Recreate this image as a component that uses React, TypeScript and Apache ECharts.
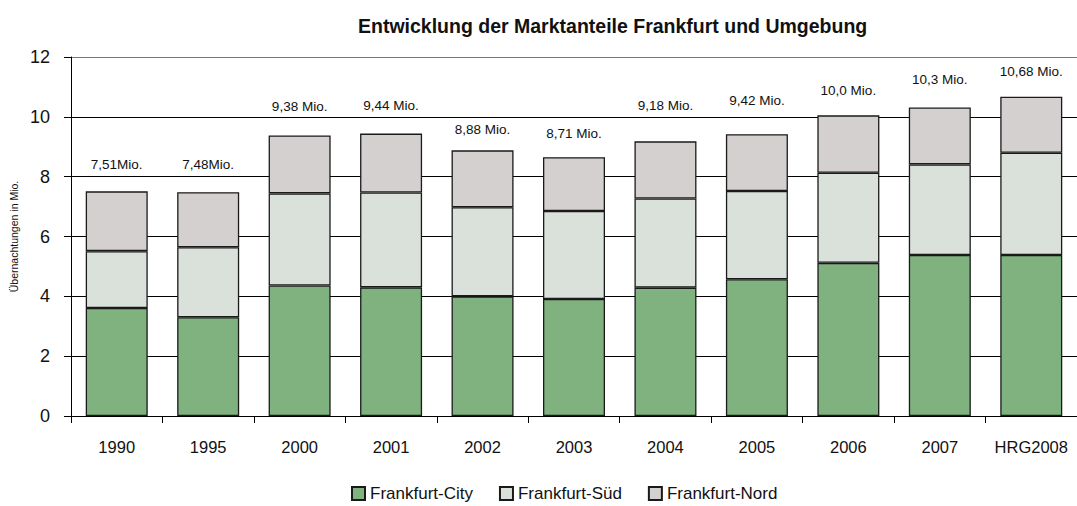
import React, { useEffect, useRef } from "react";
import * as echarts from "echarts";

const categories = ["1990", "1995", "2000", "2001", "2002", "2003", "2004", "2005", "2006", "2007", "HRG2008"];
const city = [3.61, 3.30, 4.36, 4.30, 4.00, 3.91, 4.29, 4.57, 5.12, 5.38, 5.38];
const sued = [1.90, 2.34, 3.08, 3.17, 2.98, 2.94, 2.98, 2.95, 3.01, 3.03, 3.42];
const nord = [2.00, 1.84, 1.94, 1.97, 1.90, 1.80, 1.91, 1.90, 1.92, 1.90, 1.87];
const totalLabels = ["7,51Mio.", "7,48Mio.", "9,38 Mio.", "9,44 Mio.", "8,88 Mio.", "8,71 Mio.", "9,18 Mio.", "9,42 Mio.", "10,0 Mio.", "10,3 Mio.", "10,68 Mio."];
const yTicks = { min: 0, max: 12, interval: 2 };

// label distance above each stack (style only)
const labelLift = [20, 21, 22, 21, 14, 17, 29, 27, 18, 21, 18];

const FONT = "'Liberation Sans', Arial, sans-serif";
const BORDER = "#1a1a1a";

export default function App() {
  const ref = useRef<HTMLDivElement>(null);
  useEffect(() => {
    if (!ref.current) return;
    const chart = echarts.init(ref.current, undefined, { renderer: "svg" });
    const itemBase = { borderColor: BORDER, borderWidth: 1.3 };
    chart.setOption({
      animation: false,
      backgroundColor: "#ffffff",
      textStyle: { fontFamily: FONT },
      title: {
        text: "Entwicklung der Marktanteile Frankfurt und Umgebung",
        left: 353,
        top: 11,
        textStyle: { fontFamily: FONT, fontSize: 19.5, fontWeight: "bold", color: "#111" },
      },
      legend: {
        left: 346,
        top: 480,
        itemWidth: 13,
        itemHeight: 13,
        itemGap: 26,
        icon: "rect",
        textStyle: { fontFamily: FONT, fontSize: 17, color: "#111" },
        data: ["Frankfurt-City", "Frankfurt-Süd", "Frankfurt-Nord"],
      },
      grid: { left: 71, right: -11, top: 57, bottom: 90, containLabel: false },
      xAxis: {
        type: "category",
        data: categories,
        axisLine: { lineStyle: { color: "#000", width: 1 } },
        axisTick: { show: true, length: 7, lineStyle: { color: "#000" } },
        axisLabel: { fontFamily: FONT, fontSize: 16.5, color: "#111", margin: 22, interval: 0 },
      },
      yAxis: {
        type: "value",
        min: yTicks.min,
        max: yTicks.max,
        interval: yTicks.interval,
        name: "Übernachtungen in Mio.",
        nameLocation: "middle",
        nameRotate: 90,
        nameGap: 47,
        nameTextStyle: { fontFamily: FONT, fontSize: 10.5, color: "#111" },
        axisLine: { show: true, lineStyle: { color: "#000", width: 1 } },
        axisTick: { show: true, length: 7, lineStyle: { color: "#000" } },
        axisLabel: { fontFamily: FONT, fontSize: 18, color: "#111", margin: 21 },
        splitLine: { lineStyle: { color: ["#000", "#000", "#000", "#000", "#000", "#000", "#777"], width: 1 } },
      },
      series: [
        {
          name: "Frankfurt-City",
          type: "bar",
          stack: "total",
          barWidth: 62,
          itemStyle: { ...itemBase, color: "#7fb27f" },
          data: city,
        },
        {
          name: "Frankfurt-Süd",
          type: "bar",
          stack: "total",
          barWidth: 62,
          itemStyle: { ...itemBase, color: "#dae1db" },
          data: sued,
        },
        {
          name: "Frankfurt-Nord",
          type: "bar",
          stack: "total",
          barWidth: 62,
          itemStyle: { ...itemBase, color: "#d5d0d0" },
          label: {
            show: true,
            position: "top",
            fontFamily: FONT,
            fontSize: 13.5,
            color: "#111",
            formatter: (p: any) => totalLabels[p.dataIndex],
          },
          data: nord.map((v, i) => ({ value: v, label: { distance: labelLift[i] } })),
        },
      ],
    });
    return () => chart.dispose();
  }, []);
  return <div ref={ref} style={{ position: "fixed", left: 0, top: 0, width: 1077, height: 506 }} />;
}
